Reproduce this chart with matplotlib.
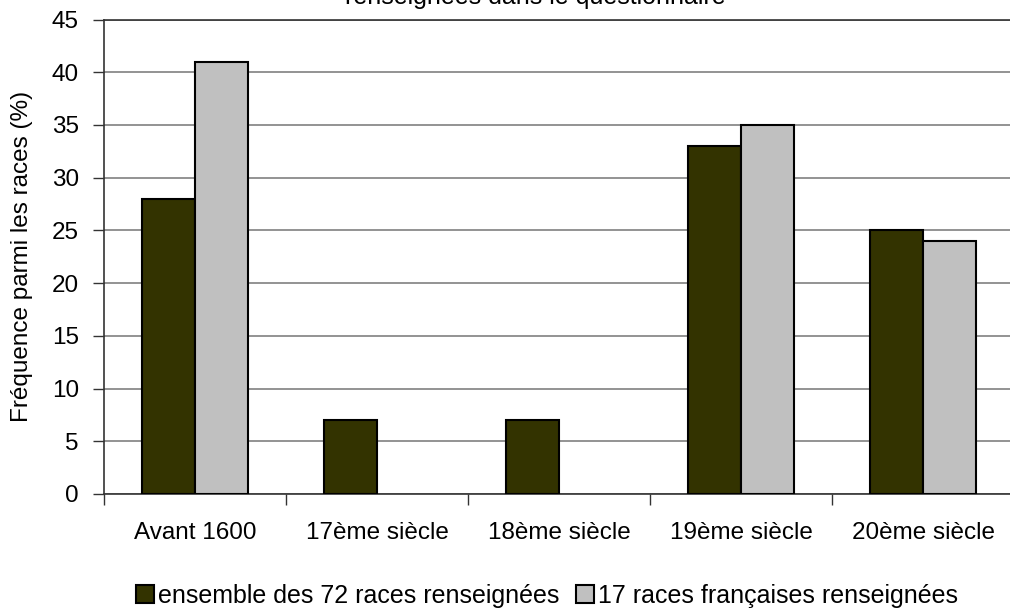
import numpy as np
import matplotlib
matplotlib.use("Agg")
import matplotlib.pyplot as plt

plt.rcParams["font.family"] = ["Liberation Sans", "DejaVu Sans"]

categories = ["Avant 1600", "17ème siècle", "18ème siècle", "19ème siècle", "20ème siècle"]
all_breeds = [28, 7, 7, 33, 25]
french_breeds = [41, 0, 0, 35, 24]
series_labels = ["ensemble des 72 races renseignées", "17 races françaises renseignées"]
title_tail = "renseignées dans le questionnaire"

DARK = "#333300"
LIGHT = "#C0C0C0"

W, H = 1010, 609
fig = plt.figure(figsize=(W / 100, H / 100), dpi=100)
ax = fig.add_axes([104 / W, 1 - 494 / H, 910 / W, (494 - 19.5) / H])

# zero values are not drawn (no flat bar on the axis)
def hide_zero(vals):
    v = np.asarray(vals, dtype=float)
    return np.where(v > 0, v, np.nan)

x = np.arange(len(categories)) + 0.5
bw = 0.29
ax.bar(x - bw / 2, hide_zero(all_breeds), bw, color=DARK, edgecolor="black",
       linewidth=1.5, label=series_labels[0], zorder=3)
ax.bar(x + bw / 2, hide_zero(french_breeds), bw, color=LIGHT, edgecolor="black",
       linewidth=1.5, label=series_labels[1], zorder=3)

ax.set_xlim(0, len(categories))
ax.set_ylim(0, 45)
ax.set_yticks(np.arange(0, 50, 5))
ax.set_xticks(np.arange(len(categories) + 1), minor=False)
ax.set_xticklabels([])
ax.set_xticks(x, minor=True)
ax.set_xticklabels(categories, minor=True)
ax.tick_params(axis="x", which="major", length=8, width=1, color="#333333")
ax.tick_params(axis="x", which="minor", length=0, pad=20, labelsize=17.5)
ax.tick_params(axis="y", length=8, width=1, color="#333333", pad=10, labelsize=17.5)

ax.yaxis.grid(True, color="#808080", linewidth=1.2, zorder=0)
ax.set_axisbelow(True)
ax.spines["right"].set_visible(False)
for side in ["top", "left", "bottom"]:
    ax.spines[side].set_color("#333333")
    ax.spines[side].set_linewidth(1.2)

ax.set_ylabel("Fréquence parmi les races (%)", fontsize=17.5)
ax.yaxis.set_label_coords(-71 / 910, 0.5)

fig.text(535 / W, 1 - 4 / H, title_tail, ha="center", va="baseline", fontsize=18)

fig.legend(loc="center", bbox_to_anchor=(547 / W, 1 - 596 / H), ncol=2, frameon=False,
           fontsize=18, handlelength=0.7, handleheight=0.75, handletextpad=0.15,
           columnspacing=0.7, borderaxespad=0)

fig.savefig("out.png", dpi=100)
